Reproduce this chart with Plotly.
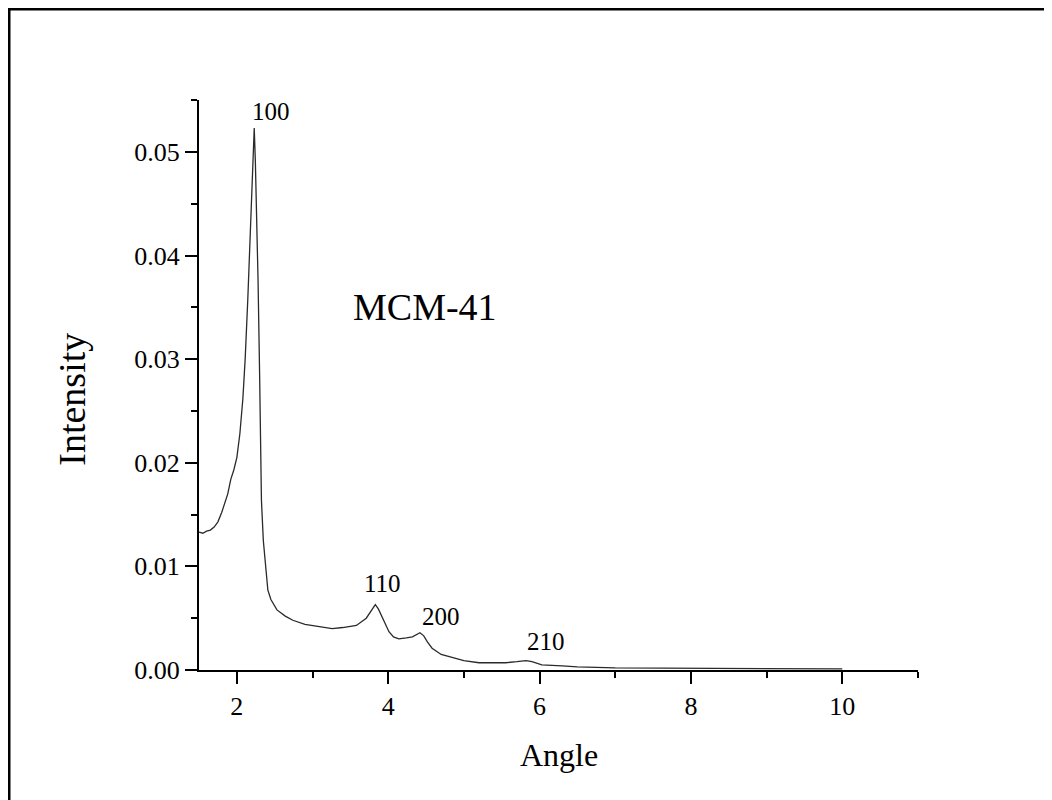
import plotly.graph_objects as go

angle = [1.50, 1.55, 1.60, 1.65, 1.70, 1.75, 1.80, 1.84, 1.88, 1.92, 1.96, 2.00, 2.04, 2.08, 2.11,
         2.145, 2.17, 2.19, 2.21, 2.23, 2.245, 2.26, 2.28, 2.30, 2.325, 2.35, 2.37, 2.41, 2.45,
         2.53, 2.64, 2.74, 2.90, 3.09, 3.26, 3.40, 3.58, 3.71, 3.78, 3.83, 3.87, 3.92, 3.97, 4.01,
         4.07, 4.14, 4.24, 4.32, 4.42, 4.47, 4.52, 4.58, 4.70, 4.84, 5.00, 5.20, 5.55, 5.70, 5.82,
         5.90, 6.03, 6.30, 6.50, 7.00, 8.00, 9.00, 10.0]
intensity = [0.0133, 0.0132, 0.0134, 0.0135, 0.0138, 0.0143, 0.0152, 0.0160, 0.0170, 0.0184, 0.0193,
             0.0205, 0.0228, 0.0262, 0.0300, 0.0358, 0.0410, 0.0455, 0.0495, 0.0523, 0.0490, 0.0445,
             0.0377, 0.0290, 0.0164, 0.0125, 0.0106, 0.0077, 0.0068, 0.0058, 0.0052, 0.0048, 0.0044,
             0.0042, 0.0040, 0.0041, 0.0043, 0.0050, 0.0058, 0.0063, 0.0059, 0.0051, 0.0043, 0.0037,
             0.0032, 0.0030, 0.0031, 0.0032, 0.0036, 0.0033, 0.0027, 0.0021, 0.0015, 0.0012, 0.0009,
             0.0007, 0.0007, 0.0008, 0.0009, 0.0008, 0.0005, 0.0004, 0.0003, 0.0002, 0.00015, 0.0001,
             0.0001]

peak_labels = ["100", "110", "200", "210"]
peak_label_x = [2.45, 3.93, 4.70, 6.08]
peak_label_y = [0.0539, 0.00832, 0.00513, 0.00271]

sample_name = "MCM-41"
x_ticks = [2, 4, 6, 8, 10]
y_ticks = [0.00, 0.01, 0.02, 0.03, 0.04, 0.05]

FONT = "Liberation Serif, Times New Roman, serif"

fig = go.Figure()
fig.add_trace(go.Scatter(x=angle, y=intensity, mode="lines",
                         line=dict(color="#2a2a2a", width=1.3), showlegend=False))

for t, xx, yy in zip(peak_labels, peak_label_x, peak_label_y):
    fig.add_annotation(x=xx, y=yy, xref="x", yref="y", text=t, showarrow=False,
                       font=dict(family=FONT, size=25, color="black"),
                       xanchor="center", yanchor="middle")

fig.add_annotation(x=4.49, y=0.035, xref="x", yref="y", text=sample_name, showarrow=False,
                   font=dict(family=FONT, size=38, color="black"), xanchor="center", yanchor="middle")

fig.add_annotation(x=0.5, y=-0.149, xref="paper", yref="paper", text="Angle", showarrow=False,
                   font=dict(family=FONT, size=32, color="black"), xanchor="center", yanchor="middle")
fig.add_annotation(x=-0.176, y=0.475, xref="paper", yref="paper", text="Intensity", showarrow=False,
                   textangle=-90, font=dict(family=FONT, size=38, color="black"),
                   xanchor="center", yanchor="middle")

# outer frame (plot area spans 719 x 570 px)
fig.add_shape(type="rect", xref="paper", yref="paper",
              x0=(9 - 199) / 719, x1=1.2, y0=-0.26, y1=(670 - 9) / 570,
              line=dict(color="black", width=3), fillcolor="rgba(0,0,0,0)", layer="above")

fig.update_xaxes(range=[1.5, 11.001], showgrid=False, zeroline=False,
                 showline=True, linecolor="black", linewidth=2,
                 tickmode="array", tickvals=x_ticks, ticktext=[str(v) for v in x_ticks],
                 ticks="outside", ticklen=12, tickwidth=2, tickcolor="black",
                 tickfont=dict(family=FONT, size=26, color="black"),
                 minor=dict(tickmode="linear", tick0=0, dtick=1, ticks="outside", ticklen=6,
                            tickwidth=2, tickcolor="black", showgrid=False))
fig.update_yaxes(range=[0, 0.05501], showgrid=False, zeroline=False,
                 showline=True, linecolor="black", linewidth=2,
                 tickmode="array", tickvals=y_ticks, ticktext=[f"{v:.2f}" for v in y_ticks],
                 ticks="outside", ticklen=12, tickwidth=2, tickcolor="black",
                 tickfont=dict(family=FONT, size=26, color="black"),
                 minor=dict(tickmode="linear", tick0=0, dtick=0.005, ticks="outside", ticklen=6,
                            tickwidth=2, tickcolor="black", showgrid=False))

# page body has an 8px margin, so offset the figure margins accordingly
fig.update_layout(width=1052, height=800, autosize=False,
                  margin=dict(l=191, r=142, t=92, b=138),
                  plot_bgcolor="white", paper_bgcolor="white",
                  font=dict(family=FONT, color="black"))

fig.write_html("out.html")
